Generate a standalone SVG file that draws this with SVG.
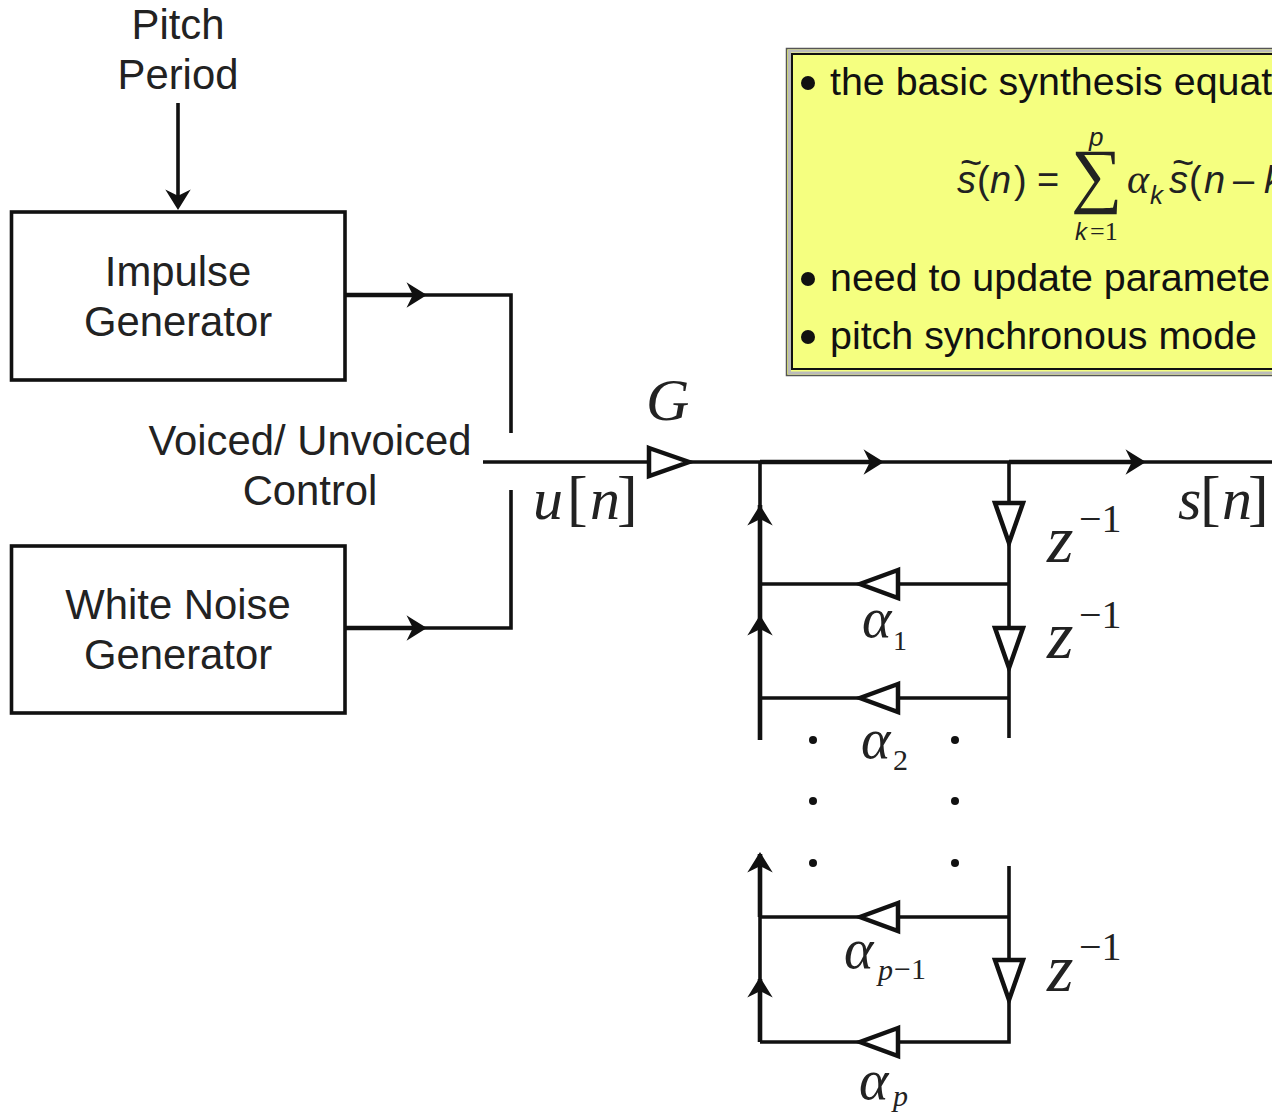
<svg xmlns="http://www.w3.org/2000/svg" width="1272" height="1115" viewBox="0 0 1272 1115">
<style>
.s{font-family:"Liberation Sans",Arial,sans-serif;font-size:41.800px;fill:#222;text-anchor:middle}
.b{font-family:"Liberation Sans",Arial,sans-serif;font-size:39.400px;fill:#111}
.m{font-family:"Liberation Serif","Times New Roman",serif;fill:#222;font-style:italic}
.n{font-family:"Liberation Serif","Times New Roman",serif;fill:#222}
.f{font-family:"Liberation Sans",Arial,sans-serif;fill:#222;font-size:38px}
.fi{font-family:"Liberation Sans",Arial,sans-serif;fill:#222;font-style:italic}
.l{fill:none;stroke:#111;stroke-width:3.600}
.h{fill:none;stroke:#111;stroke-width:4.600}
.t{fill:#fff;stroke:#111;stroke-width:4.500}
.box{fill:#fff;stroke:#111;stroke-width:3.600}
</style>
<defs>
<path id="ar" d="M-16,-10 L0,0 L-16,10 L-11,0 Z" fill="#111" stroke="#111" stroke-width="2"/>
</defs>
<g id="connectors">
<path class="l" d="M178,103V205"/>
<path class="l" d="M345,295H511V433M345,628H511V490M483,462H1272"/>
<path class="h" d="M345,295H420M345,628H420M760,462H878M1009,462H1140"/>
<path class="l" d="M760,462V505M760,584H1009M760,698H1009M1009,462V738"/>
<path class="h" d="M760,505V740M760,854V917M760,979V1042"/>
<path class="l" d="M760,917V979M760,1042H1009V866M760,917H1009"/>
<use href="#ar" transform="translate(178,208) rotate(90)"/>
<use href="#ar" x="425" y="295"/><use href="#ar" x="425" y="628"/>
<use href="#ar" x="882" y="462"/><use href="#ar" x="1144" y="462"/>
<use href="#ar" transform="translate(760,507) rotate(-90)"/><use href="#ar" transform="translate(760,617) rotate(-90)"/>
<use href="#ar" transform="translate(760,854) rotate(-90)"/><use href="#ar" transform="translate(760,979) rotate(-90)"/>
<path class="t" d="M649,448L689,462L649,476Z"/>
<path class="t" d="M898,570L860,584L898,598Z"/>
<path class="t" d="M898,684L860,698L898,712Z"/>
<path class="t" d="M898,903L860,917L898,931Z"/>
<path class="t" d="M898,1028L860,1042L898,1056Z"/>
<path class="t" d="M995,503H1023L1009,543Z"/>
<path class="t" d="M995,628H1023L1009,668Z"/>
<path class="t" d="M995,960H1023L1009,1000Z"/>
<g fill="#111"><circle cx="813" cy="740" r="4"/><circle cx="955" cy="740" r="4"/><circle cx="813" cy="801" r="4"/><circle cx="955" cy="801" r="4"/><circle cx="813" cy="863" r="4"/><circle cx="955" cy="863" r="4"/></g>
</g>
<g id="pitch-label"><text class="s" x="178" y="39">Pitch</text><text class="s" x="178" y="89">Period</text></g>
<g id="impulse-generator"><rect class="box" x="11.500" y="212" width="333.500" height="168"/><text class="s" x="178" y="286">Impulse</text><text class="s" x="178" y="336">Generator</text></g>
<g id="control-label"><text class="s" x="310" y="455">Voiced/ Unvoiced</text><text class="s" x="310" y="505">Control</text></g>
<g id="white-noise-generator"><rect class="box" x="11.500" y="546" width="333.500" height="167"/><text class="s" x="178" y="619">White Noise</text><text class="s" x="178" y="669">Generator</text></g>
<g id="math-labels">
<text class="m" x="646" y="420" font-size="60">G</text>
<text class="m" x="533" y="519" font-size="60">u</text>
<text class="n" x="567" y="519" font-size="62">[</text>
<text class="m" x="590" y="519" font-size="60">n</text>
<text class="n" x="617" y="519" font-size="62">]</text>
<text class="m" x="1178" y="519" font-size="60">s</text>
<text class="n" x="1200" y="519" font-size="62">[</text>
<text class="m" x="1222" y="519" font-size="60">n</text>
<text class="n" x="1248" y="519" font-size="62">]</text>
<text class="m" x="1047" y="562" font-size="68">z</text><text class="n" x="1079" y="532" font-size="40">−1</text>
<text class="m" x="1047" y="658" font-size="68">z</text><text class="n" x="1079" y="628" font-size="40">−1</text>
<text class="m" x="1047" y="991" font-size="68">z</text><text class="n" x="1079" y="960" font-size="40">−1</text>
<text class="m" x="862" y="637" font-size="56">α</text><text class="n" x="893" y="650" font-size="28">1</text>
<text class="m" x="861" y="758" font-size="56">α</text><text class="n" x="893" y="770" font-size="30">2</text>
<text class="m" x="844" y="968" font-size="56">α</text><text class="m" x="878" y="980" font-size="30">p</text><text class="n" x="894" y="979" font-size="30">−1</text>
<text class="m" x="859" y="1099" font-size="56">α</text><text class="m" x="893" y="1106" font-size="30">p</text>
</g>
<g id="note">
<rect x="786.500" y="48.500" width="520" height="327" fill="#f5ff80" stroke="#555" stroke-width="1.500"/>
<rect x="789.500" y="51" width="520" height="322" fill="none" stroke="#bbb" stroke-width="3"/>
<rect x="792" y="54" width="520" height="315" fill="none" stroke="#111" stroke-width="2"/>
<g fill="#111"><circle cx="808" cy="83" r="7"/><circle cx="808" cy="279" r="7"/><circle cx="808" cy="337" r="7"/></g>
<text class="b" x="830" y="95">the basic synthesis equat</text>
<text class="b" x="830" y="291">need to update paramete</text>
<text class="b" x="830" y="349">pitch synchronous mode</text>
<text class="fi" x="957" y="193" font-size="38">s</text><text class="f" x="960" y="176" font-size="20">~</text>
<text class="f" x="977" y="193">(</text><text class="fi" x="990" y="193" font-size="38">n</text><text class="f" x="1014" y="193">)</text><text class="f" x="1037" y="193">=</text>
<text class="n" x="1071" y="199" font-size="72">∑</text>
<text class="fi" x="1089" y="146" font-size="26">p</text>
<text class="fi" x="1075" y="240" font-size="24">k</text><text class="n" x="1090" y="240" font-size="26">=1</text>
<text class="m" x="1127" y="193" font-size="42">α</text><text class="fi" x="1150" y="204" font-size="26">k</text>
<text class="fi" x="1169" y="193" font-size="38">s</text><text class="f" x="1172" y="176" font-size="20">~</text>
<text class="f" x="1189" y="193">(</text><text class="fi" x="1204" y="193" font-size="38">n</text><text class="f" x="1233" y="193">–</text><text class="fi" x="1264" y="193" font-size="38">k</text>
</g>
</svg>
